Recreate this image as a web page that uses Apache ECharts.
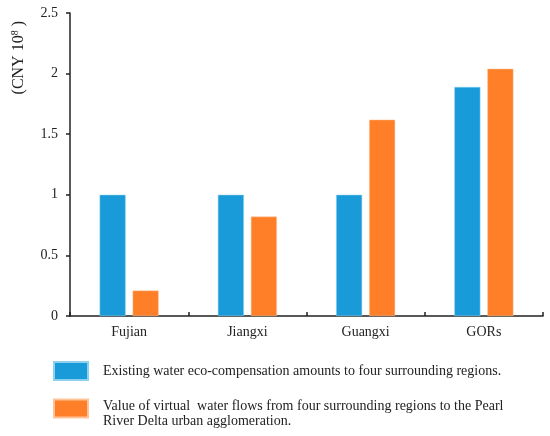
<!DOCTYPE html>
<html>
<head>
<meta charset="utf-8">
<script src="https://cdn.jsdelivr.net/npm/echarts@6/dist/echarts.min.js"></script>
<style>
  html, body { margin: 0; padding: 0; background: #fff; }
  #chart { width: 550px; height: 436px; }
</style>
</head>
<body>
<div id="chart"></div>
<script>
var categories = ['Fujian', 'Jiangxi', 'Guangxi', 'GORs'];
var existingComp = [1.0, 1.0, 1.0, 1.89];
var virtualWater = [0.21, 0.82, 1.62, 2.04];
var yTicks = { min: 0, max: 2.5, interval: 0.5 };
var seriesNames = [
  'Existing water eco-compensation amounts to four surrounding regions.',
  'Value of virtual water flows from four surrounding regions to the Pearl River Delta urban agglomeration.'
];

var font = "'Liberation Serif', 'DejaVu Serif', serif";
var myChart = echarts.init(document.getElementById('chart'));

var option = {
  backgroundColor: '#fff',
  animation: false,
  grid: { left: 70, right: 7, top: 13, bottom: 120 },
  legend: [{
    left: 53,
    top: 361,
    itemWidth: 34,
    itemHeight: 18,
    icon: 'rect',
    padding: 0,
    textStyle: { fontFamily: font, fontSize: 14, color: '#222', padding: [0, 0, 0, 10], lineHeight: 15 },
    data: [seriesNames[0]]
  }, {
    left: 53,
    top: 388.5,
    itemWidth: 34,
    itemHeight: 18,
    icon: 'rect',
    padding: 0,
    textStyle: {
      fontFamily: font, fontSize: 14, color: '#222', padding: [0, 0, 0, 10], lineHeight: 15,
      rich: {
        e: { fontSize: 1, lineHeight: 10 },
        t: { fontFamily: font, fontSize: 14, color: '#222', lineHeight: 15 }
      }
    },
    formatter: function () {
      return '{e| }\n{t|Value of virtual  water flows from four surrounding regions to the Pearl}\n{t|River Delta urban agglomeration.}';
    },
    data: [seriesNames[1]]
  }],
  graphic: [{
    type: 'text',
    left: 10,
    top: 21,
    rotation: Math.PI / 2,
    style: {
      text: '{a|(CNY 10}{s|8}{a| )}',
      rich: {
        a: { fontFamily: font, fontSize: 16, fill: '#222' },
        s: { fontFamily: font, fontSize: 10, fill: '#222', verticalAlign: 'top', padding: [0, 0, 7, 0] }
      }
    }
  }],
  xAxis: {
    type: 'category',
    data: categories,
    axisLine: { lineStyle: { color: '#222', width: 1.5 } },
    axisTick: { show: true, inside: true, length: 4, lineStyle: { color: '#222', width: 1.5 } },
    axisLabel: { fontFamily: font, fontSize: 14, color: '#222', margin: 9 }
  },
  yAxis: {
    type: 'value',
    min: yTicks.min,
    max: yTicks.max,
    interval: yTicks.interval,
    splitLine: { show: false },
    axisLine: { show: true, lineStyle: { color: '#222', width: 1.5 } },
    axisTick: { show: true, length: 4, lineStyle: { color: '#222', width: 1.5 } },
    axisLabel: { fontFamily: font, fontSize: 14, color: '#222', margin: 12 }
  },
  series: [
    {
      name: seriesNames[0],
      type: 'bar',
      data: existingComp,
      barWidth: 26,
      barGap: '27%',
      itemStyle: { color: '#189bd8', borderColor: '#8fd0ef', borderWidth: 0.5 }
    },
    {
      name: seriesNames[1],
      type: 'bar',
      data: virtualWater,
      barWidth: 26,
      itemStyle: { color: '#fe7f27', borderColor: '#ffc39a', borderWidth: 0.5 }
    }
  ]
};

myChart.setOption(option);
</script>
</body>
</html>
